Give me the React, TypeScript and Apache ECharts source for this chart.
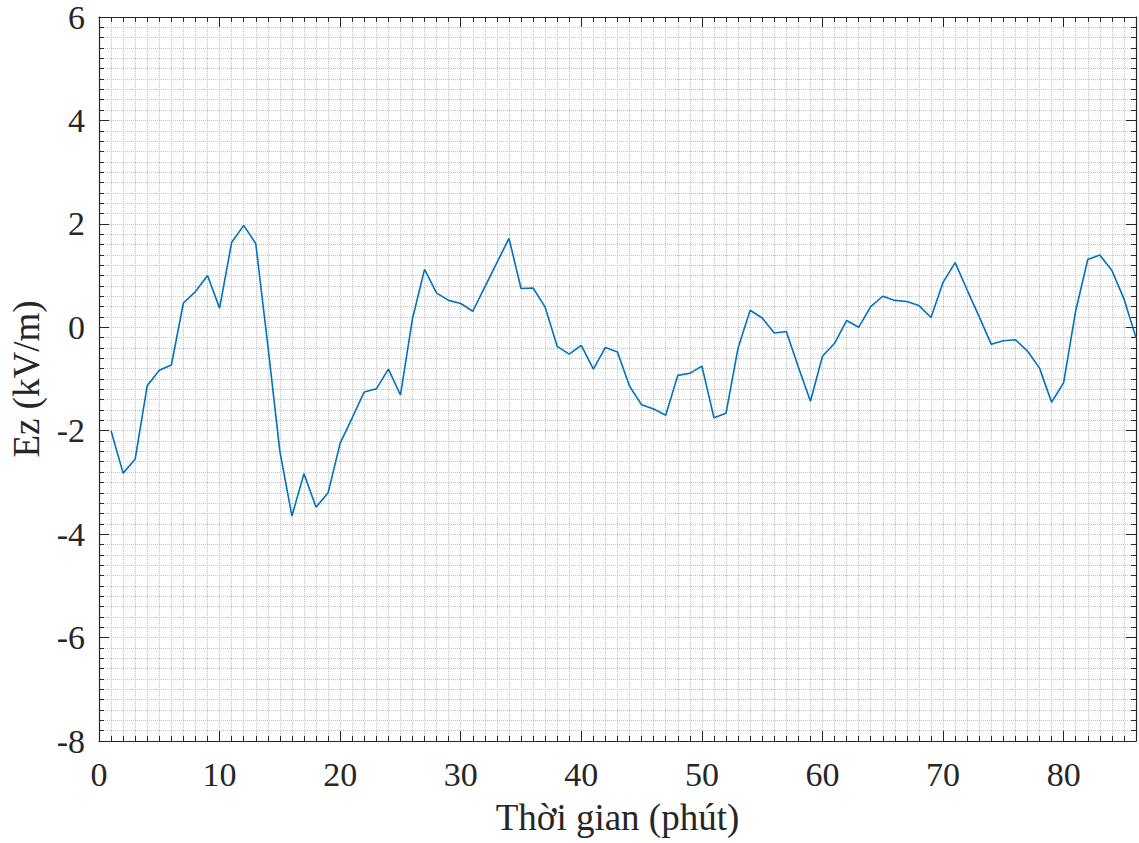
import React, { useEffect, useRef } from "react";
import * as echarts from "echarts";

const minutes: number[] = [
  1, 2, 3, 4, 5, 6, 7, 8, 9, 10, 11, 12, 13, 14, 15, 16, 17, 18, 19, 20,
  21, 22, 23, 24, 25, 26, 27, 28, 29, 30, 31, 32, 33, 34, 35, 36, 37, 38, 39, 40,
  41, 42, 43, 44, 45, 46, 47, 48, 49, 50, 51, 52, 53, 54, 55, 56, 57, 58, 59, 60,
  61, 62, 63, 64, 65, 66, 67, 68, 69, 70, 71, 72, 73, 74, 75, 76, 77, 78, 79, 80,
  81, 82, 83, 84, 85, 86,
];

const ezValues: number[] = [
  -2.0, -2.82, -2.55, -1.13, -0.83, -0.73, 0.47, 0.69, 1.0, 0.37,
  1.64, 1.97, 1.62, -0.35, -2.4, -3.65, -2.83, -3.48, -3.2, -2.24,
  -1.75, -1.25, -1.19, -0.81, -1.31, 0.17, 1.12, 0.66, 0.52, 0.46,
  0.31, 0.78, 1.25, 1.72, 0.75, 0.76, 0.39, -0.37, -0.52, -0.35,
  -0.81, -0.39, -0.48, -1.14, -1.5, -1.58, -1.7, -0.93, -0.89, -0.75,
  -1.75, -1.66, -0.4, 0.33, 0.18, -0.11, -0.08, -0.77, -1.43, -0.56,
  -0.31, 0.13, 0.0, 0.4, 0.6, 0.52, 0.5, 0.42, 0.19, 0.87,
  1.25, 0.72, 0.2, -0.33, -0.26, -0.24, -0.46, -0.79, -1.45, -1.07,
  0.32, 1.31, 1.4, 1.1, 0.55, -0.2,
];

const xTickLabels: string[] = ["0", "10", "20", "30", "40", "50", "60", "70", "80"];
const yTickLabels: string[] = ["-8", "-6", "-4", "-2", "0", "2", "4", "6"];

const X_MIN = 0;
const X_MAX = 86;
const X_INT = 10;
const Y_MIN = -8;
const Y_MAX = 6;
const Y_INT = 2;

const FONT = "'Liberation Serif', 'Times New Roman', serif";

export default function App() {
  const ref = useRef<HTMLDivElement>(null);

  useEffect(() => {
    document.body.style.margin = "0";
    if (!ref.current) return;
    const chart = echarts.init(ref.current, undefined, { renderer: "svg" });

    const gridDot = { show: true, lineStyle: { color: "#c4c4c4", type: "dotted" as const, width: 1 } };

    const baseX = {
      type: "value" as const,
      min: X_MIN,
      max: X_MAX,
      interval: X_INT,
      minorTick: { show: true, splitNumber: 10, length: 5, lineStyle: { color: "#262626", width: 1 } },
      axisTick: { show: true, inside: true, length: 10, lineStyle: { color: "#262626", width: 1 } },
      axisLine: { show: true, onZero: false, lineStyle: { color: "#262626", width: 1.2 } },
    };
    const baseY = {
      type: "value" as const,
      min: Y_MIN,
      max: Y_MAX,
      interval: Y_INT,
      minorTick: { show: true, splitNumber: 10, length: 5, lineStyle: { color: "#262626", width: 1 } },
      axisTick: { show: true, inside: true, length: 10, lineStyle: { color: "#262626", width: 1 } },
      axisLine: { show: true, onZero: false, lineStyle: { color: "#262626", width: 1.2 } },
    };

    chart.setOption({
      animation: false,
      backgroundColor: "#ffffff",
      grid: { left: 98, right: 2, top: 15, bottom: 102, containLabel: false },
      xAxis: [
        {
          ...baseX,
          position: "bottom",
          name: "Thời gian (phút)",
          nameLocation: "middle",
          nameGap: 58,
          nameTextStyle: { fontFamily: FONT, fontSize: 37, color: "#262626" },
          axisLabel: {
            show: true,
            margin: 16,
            fontFamily: FONT,
            fontSize: 34,
            color: "#262626",
            formatter: (v: number) => {
              const s = String(v);
              return xTickLabels.includes(s) ? s : "";
            },
          },
          splitLine: gridDot,
          minorSplitLine: gridDot,
        },
        {
          ...baseX,
          position: "top",
          axisLabel: { show: false },
          splitLine: { show: false },
          minorSplitLine: { show: false },
        },
      ],
      yAxis: [
        {
          ...baseY,
          position: "left",
          name: "Ez (kV/m)",
          nameLocation: "middle",
          nameGap: 54,
          nameTextStyle: { fontFamily: FONT, fontSize: 37, color: "#262626" },
          axisLabel: {
            show: true,
            margin: 14,
            fontFamily: FONT,
            fontSize: 34,
            color: "#262626",
            formatter: (v: number) => {
              const s = String(v);
              return yTickLabels.includes(s) ? s : "";
            },
          },
          splitLine: gridDot,
          minorSplitLine: gridDot,
        },
        {
          ...baseY,
          position: "right",
          axisLabel: { show: false },
          splitLine: { show: false },
          minorSplitLine: { show: false },
        },
      ],
      series: [
        {
          type: "line",
          xAxisIndex: 0,
          yAxisIndex: 0,
          data: minutes.map((m, i) => [m, ezValues[i]]),
          showSymbol: false,
          symbol: "none",
          lineStyle: { color: "#0072BD", width: 1.6 },
          clip: true,
        },
      ],
    });

    return () => {
      chart.dispose();
    };
  }, []);

  return <div ref={ref} style={{ width: 1139, height: 843 }} />;
}
